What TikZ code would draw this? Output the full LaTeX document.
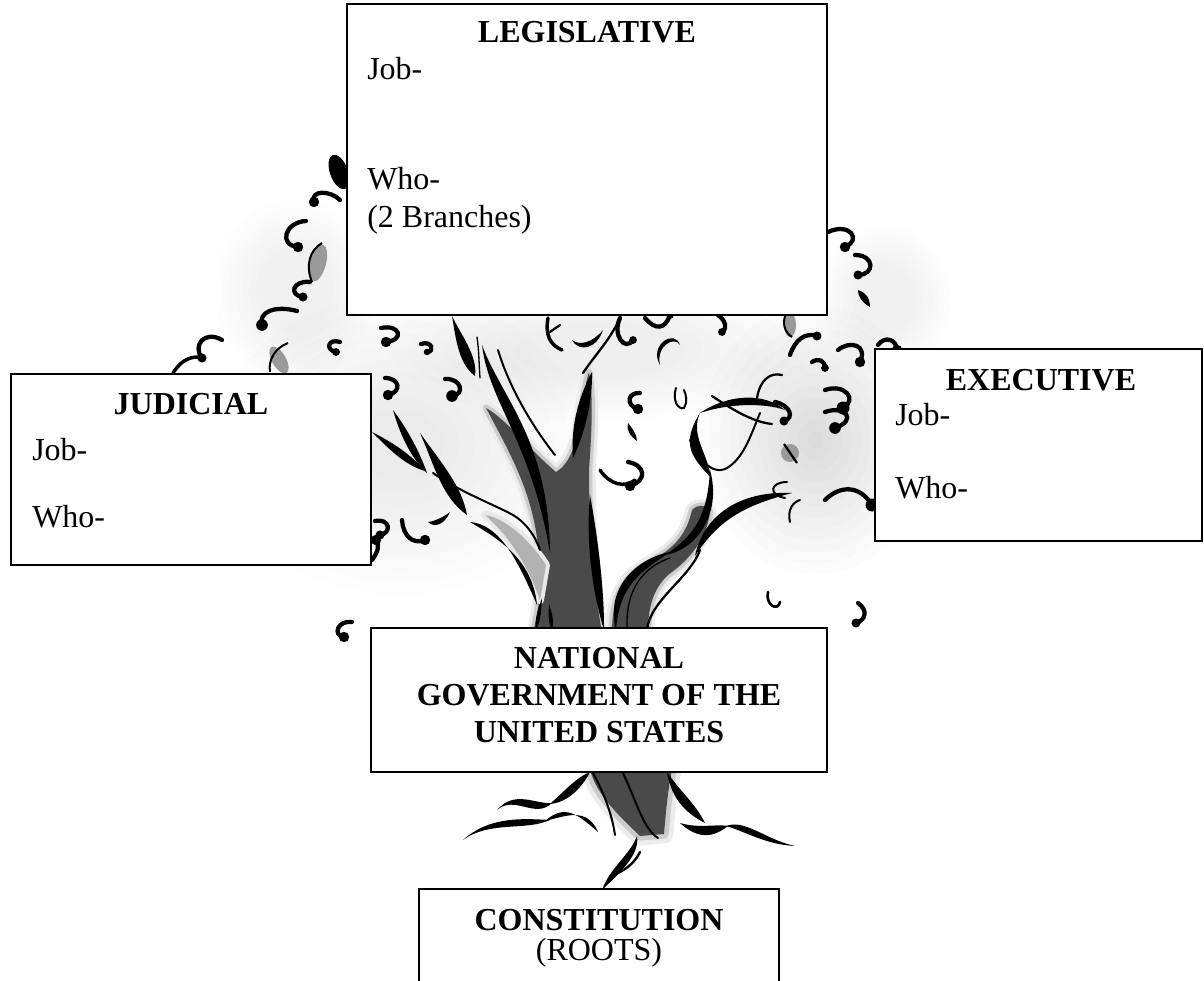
\documentclass[tikz,border=0pt]{standalone}
\usepackage{fontspec}
\setmainfont{Liberation Serif}
\usetikzlibrary{calc}
\definecolor{trunkgray}{HTML}{4A4A4A}
\definecolor{leafgray}{HTML}{9A9A9A}
% tapered stroke: start, c1, c2, end, offset at c1, offset at c2
\newcommand{\tstk}[6]{\fill #1 .. controls ($#2+2.5*#5$) and ($#3+2.5*#6$) .. #4 .. controls ($#3-2.5*#6$) and ($#2-2.5*#5$) .. cycle;}
% comma-like leaf: curve with blob at its end
\newcommand{\cma}[5]{\draw[line width=3.2pt,line cap=round] #1 .. controls #2 and #3 .. #4; \fill #4 circle[radius=1.3*#5];}
% soft grey haze
\newcommand{\haze}[5]{\foreach \k in {0,...,#4}{\pgfmathsetmacro\hrx{#2*(1-0.085*\k)}\pgfmathsetmacro\hry{#3*(1-0.085*\k)}\fill[black,opacity=#5] #1 ellipse[x radius=\hrx, y radius=\hry];}}
\begin{document}
\begin{tikzpicture}[x=0.75pt,y=-0.75pt,
  box/.style={draw=black, line width=1.5pt, fill=white, inner sep=0pt, outer sep=0pt, rectangle},
  lbl/.style={inner sep=0pt, font=\fontsize{24}{27.75}\selectfont},
  ttl/.style={inner sep=0pt, font=\fontsize{24}{27.75}\selectfont\bfseries},
  thinl/.style={line width=1.5pt, line cap=round},
  gleaf/.style={fill=leafgray}]
\useasboundingbox (0,0) rectangle (1204,981);
\fill[white] (0,0) rectangle (1204,981);

% ---------- canopy haze ----------
\haze{(400,445)}{185}{150}{9}{0.008}
\haze{(600,350)}{210}{70}{7}{0.007}
\haze{(815,440)}{115}{135}{11}{0.010}
\haze{(295,290)}{80}{90}{6}{0.008}
\haze{(885,300)}{65}{75}{6}{0.008}

% ---------- trunk fills ----------
\fill[trunkgray, preaction={draw=gray!15, line width=10pt, line join=round}, preaction={draw=gray!40, line width=5pt, line join=round}]
 (533,632) .. controls (545,590) and (540,540) .. (530,505) .. controls (520,470) and (503,440) .. (486,408)
 .. controls (505,418) and (532,452) .. (556,472) .. controls (568,465) and (576,448) .. (580,420)
 .. controls (583,400) and (585,385) .. (589,372) .. controls (594,400) and (591,440) .. (589,470)
 .. controls (589,530) and (594,590) .. (602,632) -- cycle;
\fill[gray!60, preaction={draw=gray!18, line width=6pt, line join=round}]
 (540,600) .. controls (528,565) and (508,535) .. (485,515) .. controls (505,518) and (530,540) .. (546,565) -- cycle;
\fill[trunkgray, preaction={draw=gray!15, line width=10pt, line join=round}, preaction={draw=gray!40, line width=5pt, line join=round}]
 (612,632) .. controls (612,595) and (625,575) .. (650,562) .. controls (670,550) and (686,538) .. (692,510)
 .. controls (698,504) and (705,504) .. (710,512) .. controls (706,545) and (682,565) .. (668,575)
 .. controls (652,590) and (648,610) .. (648,632) -- cycle;
\fill[trunkgray, preaction={draw=gray!15, line width=14pt, line join=round}, preaction={draw=gray!40, line width=7pt, line join=round}]
 (590,770) .. controls (597,795) and (618,815) .. (640,836) -- (664,834) .. controls (666,810) and (668,790) .. (672,770) -- cycle;

% ---------- trunk and branch strokes ----------
\tstk{(452,316)}{(458,335)}{(468,360)}{(475,376)}{(1,-0.4)}{(4,-1.5)}
\draw[thinl, line width=1pt] (477,337) .. controls (479,350) and (479,365) .. (480,378);
\tstk{(482,345)}{(495,400)}{(540,440)}{(550,553)}{(2.5,-1)}{(3.5,-0.3)}
\draw[thinl] (498,350) .. controls (510,390) and (535,430) .. (555,455);
\tstk{(592,372)}{(585,400)}{(578,430)}{(573,458)}{(3,0.5)}{(3,0.5)}
\draw[thinl, line width=1.7pt] (583,373) .. controls (595,355) and (610,340) .. (620,318);
\tstk{(590,495)}{(592,540)}{(598,590)}{(604,630)}{(2.5,0)}{(2.5,0)}
\tstk{(536,630)}{(538,618)}{(540,608)}{(542,598)}{(1.5,0)}{(0.5,0)}
\tstk{(552,630)}{(551,620)}{(550,612)}{(549,604)}{(1.5,0)}{(0.5,0)}
% left branches
\tstk{(393,410)}{(403,430)}{(415,455)}{(427,473)}{(1.5,-0.8)}{(2,-1)}
\tstk{(372,432)}{(390,445)}{(408,460)}{(425,471)}{(0.8,-1.2)}{(1.5,-2)}
\tstk{(420,433)}{(440,468)}{(452,492)}{(467,515)}{(1.5,-0.8)}{(4,-2)}
\draw[thinl] (433,473) .. controls (460,492) and (495,505) .. (513,515) .. controls (525,522) and (535,535) .. (540,550);
\tstk{(470,522)}{(500,532)}{(525,560)}{(537,605)}{(0,3)}{(3,0)}
% right trunk
\tstk{(616,630)}{(612,585)}{(640,565)}{(670,552)}{(3,0)}{(0,3)}
\tstk{(665,555)}{(695,543)}{(715,515)}{(710,470)}{(0,3)}{(3,0)}
\tstk{(711,478)}{(700,455)}{(685,440)}{(700,413)}{(3,-1)}{(2,-2)}
\draw[thinl, line width=1pt] (627,627) .. controls (626,600) and (635,570) .. (670,558);
\draw[thinl, line width=1.7pt] (647,630) .. controls (650,600) and (690,578) .. (700,550);
\tstk{(695,556)}{(712,515)}{(745,498)}{(792,493)}{(3,1.5)}{(0,3)}
% curl
\tstk{(700,413)}{(730,398)}{(765,398)}{(785,410)}{(0,2)}{(0,2)}
\cma{(775,402)}{(790,405)}{(795,418)}{(784,421)}{3.5}
\draw[thinl] (690,440) .. controls (700,462) and (715,478) .. (730,466) .. controls (745,455) and (752,432) .. (760,413);
\draw[thinl, line width=1.7pt] (712,396) .. controls (730,408) and (752,422) .. (772,424);

% ---------- roots ----------
\tstk{(497,810)}{(515,792)}{(535,812)}{(552,803)}{(0,1)}{(0,3)}
\tstk{(550,804)}{(568,795)}{(580,782)}{(590,772)}{(0,3)}{(1,2)}
\tstk{(463,840)}{(490,818)}{(525,825)}{(550,820)}{(0,1)}{(0,2.5)}
\tstk{(545,821)}{(565,810)}{(582,810)}{(598,832)}{(0,2.5)}{(2,-1.5)}
\draw[thinl] (593,773) .. controls (605,795) and (612,815) .. (615,835);
\draw[thinl] (623,773) .. controls (638,805) and (643,828) .. (658,838);
\tstk{(667,772)}{(676,795)}{(690,808)}{(705,823)}{(2,-1)}{(2,-2)}
\tstk{(680,823)}{(700,835)}{(715,830)}{(728,826)}{(0,2.5)}{(0,2.5)}
\tstk{(726,826)}{(745,825)}{(765,842)}{(795,846)}{(0,2.5)}{(0,1)}
\tstk{(637,836)}{(635,855)}{(615,870)}{(602,890)}{(2,0)}{(2,1)}
\draw[thinl, line width=1.8pt] (640,852) .. controls (635,862) and (628,868) .. (618,873);

% ---------- leaves: upper left ----------
\fill[rotate around={20:(339,172)}] (339,172) ellipse[x radius=9, y radius=18];
\cma{(340,200)}{(330,190)}{(310,190)}{(314,202)}{4}
\cma{(306,221)}{(285,222)}{(278,245)}{(298,247)}{4}
\fill[gleaf, rotate around={-15:(318,263)}] (318,263) ellipse[x radius=8, y radius=19];
\draw[line width=1.5pt] (312,282) .. controls (305,265) and (310,250) .. (322,243);
\cma{(310,282)}{(293,280)}{(288,295)}{(303,297)}{3.5}
\cma{(297,311)}{(275,305)}{(258,312)}{(262,325)}{4.5}
\cma{(222,340)}{(205,330)}{(192,345)}{(202,358)}{3.5}
\draw[thinl, line width=2.6pt] (173,373) .. controls (180,362) and (188,357) .. (198,357);
\fill[gleaf, rotate around={30:(279,360)}] (279,360) ellipse[x radius=7, y radius=15];
\draw[line width=1.5pt] (270,372) .. controls (268,360) and (275,348) .. (288,343);
\cma{(340,342)}{(328,338)}{(325,350)}{(336,352)}{3}
\cma{(381,328)}{(400,324)}{(405,340)}{(386,342)}{4}
\cma{(421,344)}{(432,340)}{(435,352)}{(427,352)}{2.5}
\cma{(385,378)}{(400,378)}{(402,392)}{(388,395)}{4}
\cma{(445,379)}{(462,378)}{(465,395)}{(452,396)}{4.5}
\cma{(375,521)}{(390,518)}{(392,533)}{(380,535)}{3.5}
\cma{(402,520)}{(403,535)}{(412,545)}{(425,540)}{4}
\tstk{(428,522)}{(435,525)}{(445,520)}{(450,512)}{(0,1.5)}{(0,1.5)}
\cma{(352,622)}{(338,620)}{(332,635)}{(344,637)}{4}
\cma{(372,560)}{(378,552)}{(380,545)}{(376,540)}{4}

% ---------- leaves: centre ----------
\draw[thinl, line width=2.6pt] (548,318) .. controls (545,335) and (550,345) .. (562,350);
\draw[thinl, line width=1.7pt] (550,332) -- (560,325);
\tstk{(572,340)}{(580,350)}{(595,345)}{(603,330)}{(0,1.5)}{(1,1)}
\cma{(620,318)}{(612,335)}{(625,352)}{(633,340)}{3}
\cma{(645,318)}{(655,330)}{(665,330)}{(670,315)}{3}
\tstk{(660,365)}{(652,345)}{(675,332)}{(680,345)}{(1.5,0)}{(0,1.5)}
\cma{(718,315)}{(725,320)}{(728,328)}{(722,332)}{3}
\fill[gleaf] (790,325) ellipse[x radius=6, y radius=12];
\draw[line width=1.5pt] (786,314) .. controls (782,322) and (784,332) .. (792,337);
\cma{(640,393)}{(628,392)}{(625,405)}{(638,409)}{4}
\draw[thinl] (676,388) .. controls (672,400) and (678,410) .. (684,408) .. controls (688,402) and (686,395) .. (684,390);
\draw[thinl, line width=2.6pt] (600,470) .. controls (610,485) and (625,488) .. (635,480);
\cma{(628,462)}{(645,465)}{(648,480)}{(630,486)}{4}
\tstk{(628,423)}{(630,430)}{(633,435)}{(637,441)}{(1.5,0)}{(1.5,0)}

% ---------- leaves: right ----------
\cma{(828,232)}{(850,222)}{(862,240)}{(845,247)}{4}
\cma{(855,255)}{(875,255)}{(875,275)}{(858,275)}{3.5}
\tstk{(858,290)}{(862,295)}{(866,300)}{(870,307)}{(1.5,-1)}{(1.5,-1)}
\cma{(790,355)}{(795,340)}{(805,332)}{(817,336)}{3.5}
\cma{(812,362)}{(818,358)}{(825,360)}{(825,368)}{3}
\cma{(838,350)}{(850,340)}{(868,345)}{(860,362)}{4}
\cma{(878,345)}{(885,335)}{(897,340)}{(897,350)}{4}
\draw[thinl, line width=1.7pt] (757,398) .. controls (760,380) and (770,372) .. (782,375);
\cma{(825,390)}{(845,383)}{(858,400)}{(843,408)}{5}
\cma{(825,412)}{(845,405)}{(858,420)}{(835,428)}{4.5}
\fill[gleaf] (790,453) circle[radius=9];
\draw[line width=1.7pt] (784,444) -- (797,463);
\draw[thinl] (787,482) .. controls (770,482) and (768,495) .. (785,498);
\cma{(825,500)}{(840,485)}{(860,485)}{(872,505)}{5}
\draw[thinl] (790,522) .. controls (787,510) and (793,502) .. (800,500);
\draw[thinl, line width=2pt] (768,592) .. controls (765,605) and (778,612) .. (780,602);
\cma{(858,603)}{(868,610)}{(866,620)}{(856,623)}{3.5}

% ---------- boxes ----------
\node[box, minimum width=360pt, minimum height=233.25pt] (leg) at (587,159.5) {};
\node[box, minimum width=270pt, minimum height=143.25pt] (jud) at (191,469.5) {};
\node[box, minimum width=245.25pt, minimum height=144pt] (exe) at (1038.5,445) {};
\node[box, minimum width=342pt, minimum height=108pt] (nat) at (599,700) {};
\node[box, minimum width=270pt, minimum height=83.25pt] (con) at (599,944.5) {};

% ---------- texts ----------
\node[ttl, anchor=base] (legT) at (587,43) {LEGISLATIVE};
\node[lbl, anchor=base west] (legJ) at (367,80) {Job-};
\node[lbl, anchor=base west] (legW) at (367,190) {Who-};
\node[lbl, anchor=base west] (legB) at (367,227) {(2 Branches)};

\node[ttl, anchor=base] (judT) at (191,414) {JUDICIAL};
\node[lbl, anchor=base west] (judJ) at (32,460) {Job-};
\node[lbl, anchor=base west] (judW) at (32,527) {Who-};

\node[ttl, anchor=base] (exeT) at (1041,390) {EXECUTIVE};
\node[lbl, anchor=base west] (exeJ) at (895,425) {Job-};
\node[lbl, anchor=base west] (exeW) at (895,498) {Who-};

\node[ttl, anchor=base] (nat1) at (599,668) {NATIONAL};
\node[ttl, anchor=base] (nat2) at (599,705) {GOVERNMENT OF THE};
\node[ttl, anchor=base] (nat3) at (599,742) {UNITED STATES};

\node[ttl, anchor=base] (conT) at (599,930) {CONSTITUTION};
\node[lbl, anchor=base] (conR) at (599,960) {(ROOTS)};
\end{tikzpicture}
\end{document}
